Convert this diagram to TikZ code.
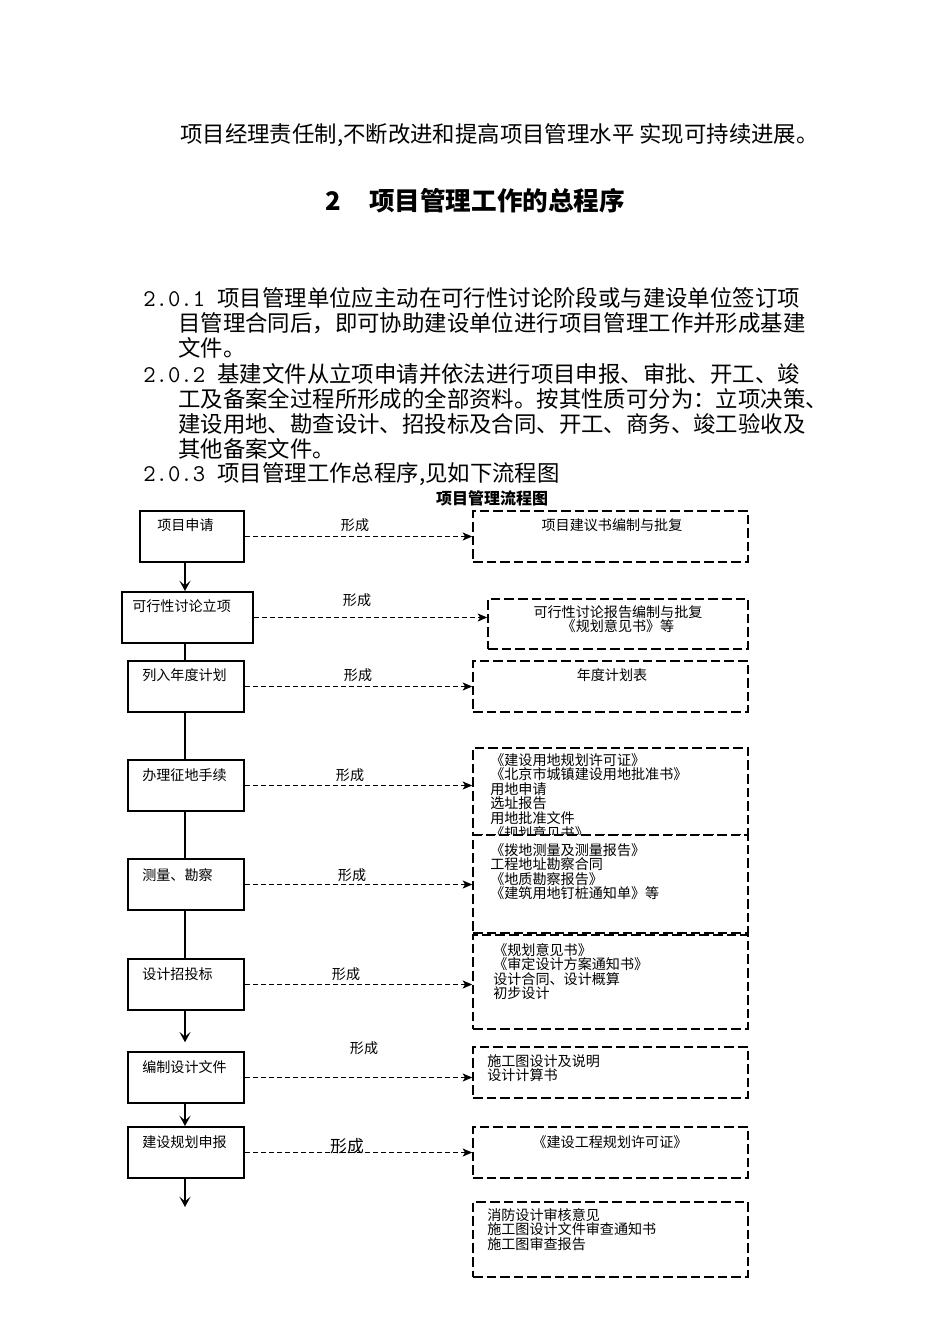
\documentclass[tikz,border=0pt]{standalone}
\usepackage{fontspec}
\setmainfont{Noto Sans CJK SC}
\usetikzlibrary{arrows.meta,fit,positioning}
\newcommand{\clauseno}[1]{{\ttfamily\fontsize{15pt}{17pt}\selectfont #1 }}

\begin{document}
\begin{tikzpicture}[x=0.625pt,y=-0.625pt,
		bodytext/.style={anchor=west,inner sep=0pt,font=\fontsize{14pt}{17pt}\selectfont},
		stagebox/.style={draw,line width=1.2pt,inner sep=0pt},
		docbox/.style={draw,fill=white,line width=0.9pt,dash pattern=on 6pt off 2.5pt,inner sep=0pt},
		boxtext/.style={anchor=west,inner sep=0pt,font=\fontsize{8.8pt}{9.1pt}\selectfont},
		listtext/.style={anchor=north west,inner sep=0pt,align=left,font=\fontsize{8.8pt}{9.1pt}\selectfont},
		formtext/.style={inner sep=0pt,font=\fontsize{8.8pt}{9.1pt}\selectfont},
		flow/.style={line width=1.8pt,-{Stealth[length=6.5pt,width=7pt,inset=3pt]}},
		trunk/.style={line width=1.8pt},
		makes/.style={line width=0.8pt,dash pattern=on 3pt off 2pt,-{Stealth[length=6pt,width=5pt,inset=1.5pt]}}]

	\useasboundingbox[fill=white] (0,0) rectangle (950,1344);

	\node[bodytext] (intro) at (180,135) {项目经理责任制,不断改进和提高项目管理水平 实现可持续进展。};
	\node[bodytext,font=\bfseries\fontsize{16pt}{19pt}\selectfont] (head) at (325,201) {2\hspace{1.1em}项目管理工作的总程序};

	\node[bodytext] (p1a) at (143,298) {\clauseno{2.0.1}项目管理单位应主动在可行性讨论阶段或与建设单位签订项};
	\node[bodytext] (p1b) at (178,323) {目管理合同后，即可协助建设单位进行项目管理工作并形成基建};
	\node[bodytext] (p1c) at (178,348) {文件。};
	\node[bodytext] (p2a) at (143,373.5) {\clauseno{2.0.2}基建文件从立项申请并依法进行项目申报、审批、开工、竣};
	\node[bodytext] (p2b) at (178,398.5) {工及备案全过程所形成的全部资料。按其性质可分为：立项决策、};
	\node[bodytext] (p2c) at (178,423.5) {建设用地、勘查设计、招投标及合同、开工、商务、竣工验收及};
	\node[bodytext] (p2d) at (178,448.5) {其他备案文件。};
	\node[bodytext] (p3a) at (143,474) {\clauseno{2.0.3}项目管理工作总程序,见如下流程图};

	\node[font=\bfseries\fontsize{10pt}{12pt}\selectfont,inner sep=0pt] (title) at (492,498) {项目管理流程图};

	\node[stagebox,fit={(140,511) (244,562)}] (s1) {};
	\node[stagebox,fit={(122,592) (253,643)}] (s2) {};
	\node[stagebox,fit={(128,661) (244,712)}] (s3) {};
	\node[stagebox,fit={(128,760) (244,811)}] (s4) {};
	\node[stagebox,fit={(128,859) (244,910)}] (s5) {};
	\node[stagebox,fit={(128,959) (244,1010)}] (s6) {};
	\node[stagebox,fit={(128,1052) (244,1103)}] (s7) {};
	\node[stagebox,fit={(128,1127) (244,1178)}] (s8) {};

	\node[boxtext] (s1t) at (157,525) {项目申请};
	\node[boxtext] (s2t) at (132,606) {可行性讨论立项};
	\node[boxtext] (s3t) at (142,675) {列入年度计划};
	\node[boxtext] (s4t) at (142,775) {办理征地手续};
	\node[boxtext] (s5t) at (142,875) {测量、勘察};
	\node[boxtext] (s6t) at (142,974) {设计招投标};
	\node[boxtext] (s7t) at (142,1067) {编制设计文件};
	\node[boxtext] (s8t) at (142,1142) {建设规划申报};

	\node[docbox,fit={(473,511) (748,562)}] (d1) {};
	\node[formtext] (d1t) at (612,525) {项目建议书编制与批复};
	\node[docbox,fit={(488,599) (748,649)}] (d2) {};
	\node[listtext,anchor=north,align=center] (d2t) at (618,605) {可行性讨论报告编制与批复\\《规划意见书》等};
	\node[docbox,fit={(473,661) (748,712)}] (d3) {};
	\node[formtext] (d3t) at (612,675) {年度计划表};
	\node[docbox,fit={(473,748) (748,835)}] (d4) {};
	\node[listtext] (d4t) at (490,753) {《建设用地规划许可证》\\《北京市城镇建设用地批准书》\\用地申请\\选址报告\\用地批准文件\\《规划意见书》};
	\node[docbox,fit={(473,835) (748,933)}] (d5) {};
	\node[listtext] (d5t) at (490,843) {《拨地测量及测量报告》\\工程地址勘察合同\\《地质勘察报告》\\《建筑用地钉桩通知单》等};
	\node[docbox,fit={(473,935) (748,1029)}] (d6) {};
	\node[listtext] (d6t) at (493,943) {《规划意见书》\\《审定设计方案通知书》\\设计合同、设计概算\\初步设计};
	\node[docbox,fit={(473,1047) (748,1098)}] (d7) {};
	\node[listtext] (d7t) at (487,1054) {施工图设计及说明\\设计计算书};
	\node[docbox,fit={(473,1127) (748,1178)}] (d8) {};
	\node[formtext] (d8t) at (610,1142) {《建设工程规划许可证》};
	\node[docbox,fit={(473,1202) (748,1277)}] (d9) {};
	\node[listtext] (d9t) at (487,1208) {消防设计审核意见\\施工图设计文件审查通知书\\施工图审查报告};

	\coordinate (axis) at (185,0);
	\coordinate (end) at (185,1207);
	\draw[flow] (s1.south -| axis) -- (s2.north -| axis);
	\foreach \a/\b in {2/3,3/4,4/5,5/6}{
		\draw[trunk] (s\a.south -| axis) -- (s\b.north -| axis);
	}
	\draw[flow,shorten >=5.5pt] (s6.south -| axis) -- (s7.north -| axis);
	\draw[flow] (s7.south -| axis) -- (s8.north -| axis);
	\draw[flow] (s8.south -| axis) -- (end);

	\foreach \i in {1,...,8}{
		\draw[makes] (s\i.east) -- (s\i.east -| d\i.west);
	}

	\node[formtext] (f1) at (355,525) {形成};
	\node[formtext] (f2) at (357,600) {形成};
	\node[formtext] (f3) at (358,675) {形成};
	\node[formtext] (f4) at (350,775) {形成};
	\node[formtext] (f5) at (352,875) {形成};
	\node[formtext] (f6) at (346,974) {形成};
	\node[formtext] (f7) at (364,1048) {形成};
	\node[formtext,font=\fontsize{10.5pt}{12pt}\selectfont] (f8) at (347,1146) {形成};
\end{tikzpicture}
\end{document}
